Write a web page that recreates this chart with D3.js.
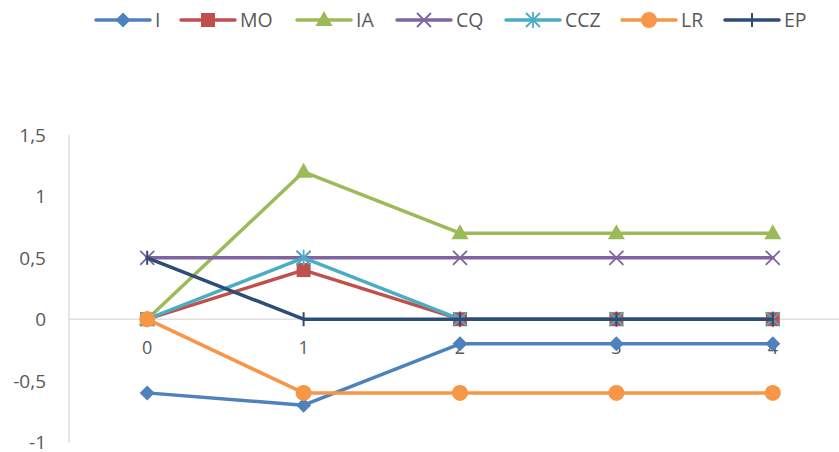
<!DOCTYPE html>
<html><head><meta charset="utf-8">
<script src="https://cdn.jsdelivr.net/npm/d3@7"></script>
<style>body{margin:0;background:#fff}svg{display:block}text{font-family:"Open Sans","Liberation Sans",sans-serif;fill:#595959}</style>
</head><body><svg id="c" width="839" height="452"></svg>
<script>
const categories = ["0","1","2","3","4"];
const seriesNames = ["I","MO","IA","CQ","CCZ","LR","EP"];
const I   = [-0.6,-0.7,-0.2,-0.2,-0.2];
const MO  = [0,0.4,0,0,0];
const IA  = [0,1.2,0.7,0.7,0.7];
const CQ  = [0.5,0.5,0.5,0.5,0.5];
const CCZ = [0,0.5,0,0,0];
const LR  = [0,-0.6,-0.6,-0.6,-0.6];
const EP  = [0.5,0,0,0,0];
const yTicks = [-1,-0.5,0,0.5,1,1.5];

const values = [I,MO,IA,CQ,CCZ,LR,EP];
const colors = ["#4F81BD","#C0504D","#9BBB59","#8064A2","#4BACC6","#F79646","#2C4D75"];
const markers = ["diamond","square","triangle","x","star","circle","plus"];

const svg = d3.select("#c");
const pL = 69, pR = 851, pT = 135, pB = 442;
const x = d3.scaleBand().domain(categories).range([pL,pR]);
const y = d3.scaleLinear().domain([-1,1.5]).range([pB,pT]);
const fmt = v => String(v).replace(".",",");

// axes
svg.append("line").attr("x1",pL).attr("x2",pL).attr("y1",pT).attr("y2",pB+1).attr("stroke","#D9D9D9").attr("stroke-width",1.3);
svg.append("line").attr("x1",pL).attr("x2",pR).attr("y1",y(0)).attr("y2",y(0)).attr("stroke","#D9D9D9").attr("stroke-width",1.3);
svg.selectAll(".yt").data(yTicks).join("text").attr("x",46).attr("y",d=>y(d)+7).attr("text-anchor","end").attr("font-size",19).text(fmt);
svg.selectAll(".xt").data(categories).join("text").attr("x",d=>x(d)+x.bandwidth()/2).attr("y",y(0)+35).attr("text-anchor","middle").attr("font-size",18).text(d=>d);

function drawMarker(g, type, cx, cy, color, s) {
  s = s || 1;
  if (type==="diamond") g.append("path").attr("d",`M${cx},${cy-7.5*s}L${cx+7.5*s},${cy}L${cx},${cy+7.5*s}L${cx-7.5*s},${cy}Z`).attr("fill",color);
  else if (type==="square") g.append("rect").attr("x",cx-7*s).attr("y",cy-7*s).attr("width",14*s).attr("height",14*s).attr("fill",color);
  else if (type==="triangle") g.append("path").attr("d",`M${cx},${cy-9*s}L${cx+8.5*s},${cy+6*s}L${cx-8.5*s},${cy+6*s}Z`).attr("fill",color);
  else if (type==="circle") g.append("circle").attr("cx",cx).attr("cy",cy).attr("r",8*s).attr("fill",color);
  else if (type==="x") g.append("path").attr("d",`M${cx-7*s},${cy-7*s}L${cx+7*s},${cy+7*s}M${cx+7*s},${cy-7*s}L${cx-7*s},${cy+7*s}`).attr("stroke",color).attr("stroke-width",1.8);
  else if (type==="star") g.append("path").attr("d",`M${cx-7*s},${cy-7*s}L${cx+7*s},${cy+7*s}M${cx+7*s},${cy-7*s}L${cx-7*s},${cy+7*s}M${cx},${cy-8*s}L${cx},${cy+8*s}`).attr("stroke",color).attr("stroke-width",1.8);
  else if (type==="plus") g.append("path").attr("d",`M${cx},${cy-7*s}L${cx},${cy+7*s}`).attr("stroke",color).attr("stroke-width",2);
}

const line = d3.line().x((d,i)=>x(categories[i])+x.bandwidth()/2).y(d=>y(d));
values.forEach((vals,k)=>{
  const g = svg.append("g");
  g.append("path").attr("d",line(vals)).attr("fill","none").attr("stroke",colors[k]).attr("stroke-width",3.5).attr("stroke-linejoin","round").attr("stroke-linecap","round");
  vals.forEach((v,i)=>drawMarker(g,markers[k],x(categories[i])+x.bandwidth()/2,y(v),colors[k]));
});

// legend
const legX = [96,181,297,397,506,622,725];
seriesNames.forEach((n,k)=>{
  const g = svg.append("g");
  const lx = legX[k], ly = 20;
  g.append("line").attr("x1",lx).attr("x2",lx+54).attr("y1",ly).attr("y2",ly).attr("stroke",colors[k]).attr("stroke-width",3.5).attr("stroke-linecap","round");
  drawMarker(g,markers[k],lx+27,ly,colors[k]);
  g.append("text").attr("x",lx+59).attr("y",ly+7).attr("font-size",19.5).text(n);
});
</script></body></html>
